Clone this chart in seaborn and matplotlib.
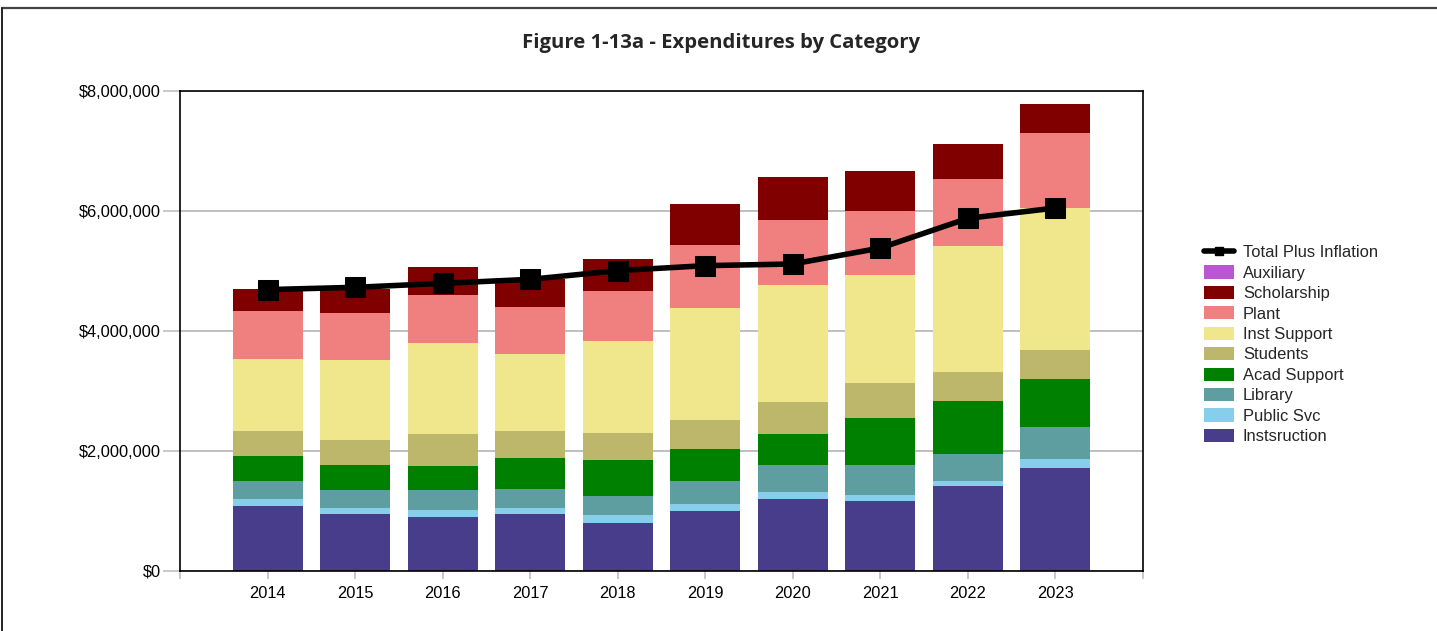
import numpy as np
import pandas as pd
import matplotlib
matplotlib.use("Agg")
import matplotlib.pyplot as plt
from matplotlib.lines import Line2D
from matplotlib.patches import Patch
from matplotlib.ticker import FuncFormatter
import seaborn as sns

years = ["2014", "2015", "2016", "2017", "2018", "2019", "2020", "2021", "2022", "2023"]
instruction = [1.083, 0.950, 0.906, 0.944, 0.806, 1.006, 1.206, 1.167, 1.411, 1.722]
public_svc = [0.122, 0.105, 0.116, 0.111, 0.122, 0.105, 0.111, 0.100, 0.089, 0.145]
library = [0.290, 0.295, 0.328, 0.317, 0.328, 0.395, 0.455, 0.505, 0.456, 0.533]
acad_support = [0.427, 0.412, 0.394, 0.506, 0.594, 0.533, 0.506, 0.778, 0.877, 0.806]
students = [0.406, 0.426, 0.545, 0.461, 0.456, 0.472, 0.533, 0.583, 0.489, 0.483]
inst_support = [1.205, 1.324, 1.517, 1.278, 1.527, 1.878, 1.961, 1.800, 2.095, 2.361]
plant = [0.795, 0.793, 0.800, 0.783, 0.828, 1.039, 1.084, 1.061, 1.122, 1.256]
scholarship = [0.367, 0.400, 0.461, 0.470, 0.539, 0.694, 0.711, 0.667, 0.578, 0.483]
auxiliary = [0, 0, 0, 0, 0, 0, 0, 0, 0, 0]
total_plus_inflation = [4.690, 4.728, 4.794, 4.861, 5.006, 5.089, 5.117, 5.383, 5.878, 6.050]

series_names = ["Instsruction", "Public Svc", "Library", "Acad Support", "Students",
                "Inst Support", "Plant", "Scholarship", "Auxiliary"]
series_vals = [instruction, public_svc, library, acad_support, students,
               inst_support, plant, scholarship, auxiliary]
colors = ["#483D8B", "#87CEEB", "#5F9EA0", "#008000", "#BDB76B",
          "#F0E68C", "#F08080", "#800000", "#BA55D3"]

sns.set_style("white")
plt.rcParams["font.family"] = ["Liberation Sans", "DejaVu Sans"]

fig = plt.figure(figsize=(14.37, 6.31), dpi=100)
ax = fig.add_axes([180/1437, 1-571/631, (1143-180)/1437, (571-91)/631])

scale = 1e6
cum = np.cumsum(np.array(series_vals) * scale, axis=0)
# draw from tallest cumulative to smallest so lower segments overlay
for i in range(len(series_names) - 1, -1, -1):
    df = pd.DataFrame({"year": years, "value": cum[i]})
    sns.barplot(data=df, x="year", y="value", color=colors[i], saturation=1,
                width=0.8, ax=ax, zorder=2, edgecolor="none")

sns.lineplot(x=np.arange(len(years)), y=np.array(total_plus_inflation) * scale, ax=ax,
             color="black", linewidth=4, marker="s", markersize=15,
             markeredgecolor="black", zorder=5)

ax.set_xlim(-1, len(years))
ax.set_ylim(0, 8e6)
ax.set_xticks(np.arange(-1, len(years) + 1))
ax.set_xticklabels([""] + years + [""])
ax.set_yticks([0, 2e6, 4e6, 6e6, 8e6])
ax.yaxis.set_major_formatter(FuncFormatter(lambda v, p: "${:,.0f}".format(v)))
ax.set_xlabel("")
ax.set_ylabel("")
ax.grid(axis="y", color="#BFBFBF", linewidth=1.4, zorder=0)
ax.set_axisbelow(True)
for s in ax.spines.values():
    s.set_color("black")
    s.set_linewidth(1.2)
    s.set_visible(True)
ax.tick_params(axis="both", which="both", direction="out", color="#BFBFBF",
               labelsize=11.8, labelcolor="black", width=1.2, left=True, bottom=True)
ax.tick_params(axis="x", length=6, pad=5)
ax.tick_params(axis="y", length=12, pad=2)

fig.text(721/1437, 1-43/631, "Figure 1-13a - Expenditures by Category",
         ha="center", va="center", fontsize=14.6, fontweight="bold",
         family=["Open Sans", "DejaVu Sans"])

handles = [Line2D([0], [0], color="black", linewidth=4, marker="s", markersize=6)]
labels = ["Total Plus Inflation"]
for i in range(len(series_names) - 1, -1, -1):
    handles.append(Patch(facecolor=colors[i], edgecolor="none"))
    labels.append(series_names[i])
fig.legend(handles, labels, loc="upper left", bbox_to_anchor=(1204/1437, 1-245/631),
           frameon=False, fontsize=11.9, handlelength=1.8, handleheight=0.85,
           labelspacing=0.31, handletextpad=0.55, borderpad=0, borderaxespad=0)

# outer frame lines (top and left)
fig.add_artist(Line2D([2/1437, 1], [1-8/631, 1-8/631], color="#444444", linewidth=1.6))
fig.add_artist(Line2D([2/1437, 2/1437], [0, 1-8/631], color="#222222", linewidth=1.4))

fig.savefig("out.png", dpi=100)
